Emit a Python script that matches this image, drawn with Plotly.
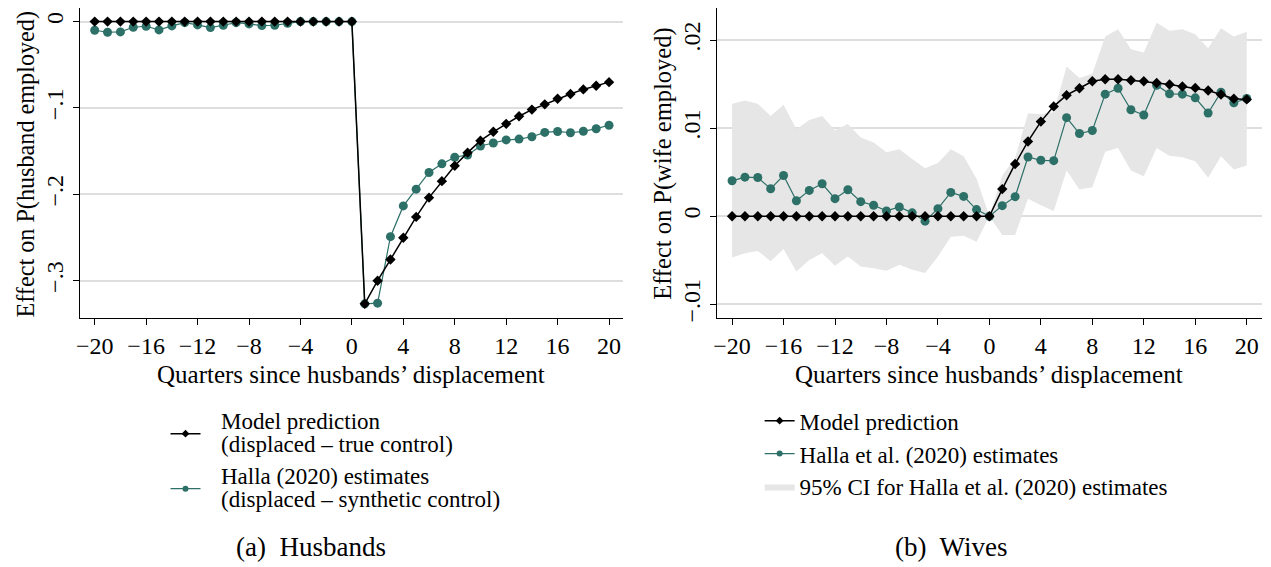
import plotly.graph_objects as go

quarters = list(range(-20, 21))

# Panel (a) Husbands
husb_model = [0.0]*21 + [-0.3268, -0.300, -0.2755, -0.2502, -0.2261, -0.2038, -0.1847, -0.167,
                          -0.1517, -0.1379, -0.1276, -0.1184, -0.1096, -0.1019, -0.0958, -0.0893,
                          -0.0839, -0.0785, -0.0743, -0.0701]
husb_halla = [-0.0100, -0.0123, -0.0119, -0.0065, -0.0054, -0.0096, -0.0050, -0.0012, -0.0038,
              -0.0069, -0.0042, -0.0012, -0.0027, -0.0046, -0.0042, -0.0019, 0.0, 0.0, 0.0, 0.0,
              0.0,
              -0.3268, -0.326, -0.249, -0.2134, -0.194, -0.1747, -0.1647, -0.157, -0.1544, -0.144,
              -0.1406, -0.137, -0.136, -0.1333, -0.1283, -0.1272, -0.1287, -0.127, -0.124, -0.120]

# Panel (b) Wives
wife_model = [0.0]*21 + [0.00308, 0.00593, 0.00849, 0.01074, 0.01247, 0.01374, 0.01453, 0.01532,
                         0.01555, 0.01555, 0.01543, 0.01532, 0.01513, 0.01495, 0.01472, 0.01457,
                         0.01427, 0.01382, 0.01333, 0.01326]
wife_halla = [0.00402, 0.00443, 0.00439, 0.00312, 0.00462, 0.00176, 0.00293, 0.00368, 0.00199,
              0.00300, 0.00165, 0.00124, 0.00060, 0.00105, 0.00038, -0.00056, 0.00086, 0.00270,
              0.00225, 0.00075, 0.0,
              0.00120, 0.00222, 0.00672, 0.00635, 0.00631, 0.01119, 0.00939, 0.00973, 0.01386,
              0.01453, 0.01209, 0.01149, 0.01487, 0.01389, 0.01386, 0.01344, 0.01172, 0.01408,
              0.01288, 0.01337]
wife_ci_upper = [0.01277, 0.01314, 0.01277, 0.01138, 0.01265, 0.00988, 0.01093, 0.01138, 0.00976,
                 0.01048, 0.00894, 0.00837, 0.00725, 0.00759, 0.00650, 0.00544, 0.00605, 0.00759,
                 0.00680, 0.00424, 0.0,
                 0.00462, 0.00660, 0.01168, 0.01157, 0.01180, 0.01701, 0.01570, 0.01618, 0.02039,
                 0.02122, 0.01896, 0.01859, 0.02197, 0.02107, 0.02122, 0.02065, 0.01908, 0.02133,
                 0.02039, 0.02095]
wife_ci_lower = [-0.00469, -0.00420, -0.00394, -0.00510, -0.00372, -0.00627, -0.00496, -0.00420,
                 -0.00563, -0.00458, -0.00571, -0.00590, -0.00620, -0.00552, -0.00608, -0.00646,
                 -0.00458, -0.00233, -0.00222, -0.00289, 0.0,
                 -0.00214, -0.00214, 0.00199, 0.00124, 0.00060, 0.00518, 0.00304, 0.00330, 0.00732,
                 0.00774, 0.00518, 0.00454, 0.00774, 0.00687, 0.00668, 0.00623, 0.00436, 0.00680,
                 0.00529, 0.00575]

x_tickvals = list(range(-20, 21, 4))
x_ticktext = [("\u2212" + str(-v)) if v < 0 else str(v) for v in x_tickvals]
husb_tickvals = [0, -0.1, -0.2, -0.3]
husb_ticktext = ["0", "\u2212.1", "\u2212.2", "\u2212.3"]
wife_tickvals = [-0.01, 0, 0.01, 0.02]
wife_ticktext = ["\u2212.01", "0", ".01", ".02"]

husb_legend_lines = ["Model prediction", "(displaced \u2013 true control)",
                     "Halla (2020) estimates", "(displaced \u2013 synthetic control)"]

TEAL = "#2d7068"
BAND = "#e6e6e6"
GRID = "#dedede"
FONT = "Liberation Serif"
OFF = 8                      # page body margin in the browser
W, H = 1271 - OFF, 567 - OFF


def px(x):
    return (x - OFF) / W


def py(y):
    return 1 - (y - OFF) / H


fig = go.Figure()

# ---- Panel (a)
fig.add_trace(go.Scatter(x=quarters, y=husb_halla, mode="lines+markers", xaxis="x", yaxis="y",
                         line=dict(color=TEAL, width=1.2),
                         marker=dict(symbol="circle", size=9, color=TEAL),
                         showlegend=False))
fig.add_trace(go.Scatter(x=quarters, y=husb_model, mode="lines+markers", xaxis="x", yaxis="y",
                         line=dict(color="black", width=1.5),
                         marker=dict(symbol="diamond", size=8, color="black"),
                         showlegend=False))
# legend keys for panel (a); their two-line labels are set as text below
fig.add_trace(go.Scatter(x=[None], y=[None], mode="lines+markers", xaxis="x", yaxis="y",
                         line=dict(color="black", width=1.5),
                         marker=dict(symbol="diamond", size=6, color="black"),
                         name=" ", legend="legend"))
fig.add_trace(go.Scatter(x=[None], y=[None], mode="lines+markers", xaxis="x", yaxis="y",
                         line=dict(color=TEAL, width=1.2),
                         marker=dict(symbol="circle", size=6, color=TEAL),
                         name=" ", legend="legend"))

# ---- Panel (b)
fig.add_trace(go.Scatter(x=quarters + quarters[::-1], y=wife_ci_upper + wife_ci_lower[::-1],
                         xaxis="x2", yaxis="y2", mode="lines", fill="toself",
                         fillcolor=BAND, line=dict(width=0, color=BAND),
                         name="95% CI for Halla et al. (2020) estimates",
                         legend="legend2", legendrank=3))
fig.add_trace(go.Scatter(x=quarters, y=wife_halla, mode="lines+markers", xaxis="x2", yaxis="y2",
                         line=dict(color=TEAL, width=1.2),
                         marker=dict(symbol="circle", size=9, color=TEAL),
                         showlegend=False))
fig.add_trace(go.Scatter(x=quarters, y=wife_model, mode="lines+markers", xaxis="x2", yaxis="y2",
                         line=dict(color="black", width=1.5),
                         marker=dict(symbol="diamond", size=8, color="black"),
                         showlegend=False))
fig.add_trace(go.Scatter(x=[None], y=[None], mode="lines+markers", xaxis="x2", yaxis="y2",
                         line=dict(color="black", width=1.5),
                         marker=dict(symbol="diamond", size=6, color="black"),
                         name="Model prediction", legend="legend2", legendrank=1))
fig.add_trace(go.Scatter(x=[None], y=[None], mode="lines+markers", xaxis="x2", yaxis="y2",
                         line=dict(color=TEAL, width=1.2),
                         marker=dict(symbol="circle", size=6, color=TEAL),
                         name="Halla et al. (2020) estimates", legend="legend2", legendrank=2))

tickfont = dict(family=FONT, size=24, color="black")
xaxis_common = dict(tickvals=x_tickvals, ticktext=x_ticktext,
                    showgrid=False, zeroline=False, showline=True, linecolor="black",
                    linewidth=1, ticks="outside", ticklen=6, tickcolor="black", tickwidth=1,
                    tickfont=tickfont)
yaxis_common = dict(showgrid=True, gridcolor=GRID, gridwidth=1.5, zeroline=False,
                    showline=True, linecolor="black", linewidth=1, ticks="outside",
                    ticklen=6, tickcolor="black", tickwidth=1, tickangle=-90,
                    tickfont=tickfont)

ydom = [py(320.7), 1.0]     # top edge of the plot area at page y = 8
fig.update_layout(
    width=W, height=H,
    margin=dict(l=0, r=0, t=0, b=0),
    paper_bgcolor="white", plot_bgcolor="white",
    font=dict(family=FONT, color="black"),
    xaxis=dict(domain=[px(76), px(621)], anchor="y", range=[-21.16, 21.09], **xaxis_common),
    yaxis=dict(domain=ydom, anchor="x", range=[-0.3437, 0.01575],
               tickvals=husb_tickvals, ticktext=husb_ticktext, **yaxis_common),
    xaxis2=dict(domain=[px(715), px(1262)], anchor="y2", range=[-21.19, 21.19], **xaxis_common),
    yaxis2=dict(domain=ydom, anchor="x2", range=[-0.01161, 0.02364],
                tickvals=wife_tickvals, ticktext=wife_ticktext, **yaxis_common),
    legend=dict(x=px(162), y=py(404), xanchor="left", yanchor="top",
                font=dict(family=FONT, size=40, color="black"),
                bgcolor="rgba(0,0,0,0)", itemwidth=30, tracegroupgap=0),
    legend2=dict(x=px(758), y=py(402), xanchor="left", yanchor="top",
                 font=dict(family=FONT, size=23, color="black"),
                 bgcolor="rgba(0,0,0,0)", itemwidth=30, traceorder="normal"),
)

annos = [
    dict(text="Quarters since husbands\u2019 displacement", x=px(348.5), y=py(376.7),
         xanchor="center", yanchor="middle", font=dict(size=25)),
    dict(text="Quarters since husbands\u2019 displacement", x=px(988.5), y=py(376.7),
         xanchor="center", yanchor="middle", font=dict(size=25)),
    dict(text="Effect on P(husband employed)", x=px(21.7), y=py(165), textangle=-90,
         xanchor="center", yanchor="middle", font=dict(size=24.2)),
    dict(text="Effect on P(wife employed)", x=px(661), y=py(165), textangle=-90,
         xanchor="center", yanchor="middle", font=dict(size=24.5)),
    dict(text="(a)\u00a0 Husbands", x=px(308), y=py(551),
         xanchor="center", yanchor="middle", font=dict(size=27)),
    dict(text="(b)\u00a0 Wives", x=px(950), y=py(551),
         xanchor="center", yanchor="middle", font=dict(size=27)),
]
for line, yc in zip(husb_legend_lines, [424, 448, 480, 503]):
    annos.append(dict(text=line, x=px(216), y=py(yc), xanchor="left", yanchor="middle",
                      font=dict(size=23)))
for a in annos:
    a.update(xref="paper", yref="paper", showarrow=False)
    a["font"].update(family=FONT, color="black")
fig.update_layout(annotations=annos)

fig.write_html("out.html")
